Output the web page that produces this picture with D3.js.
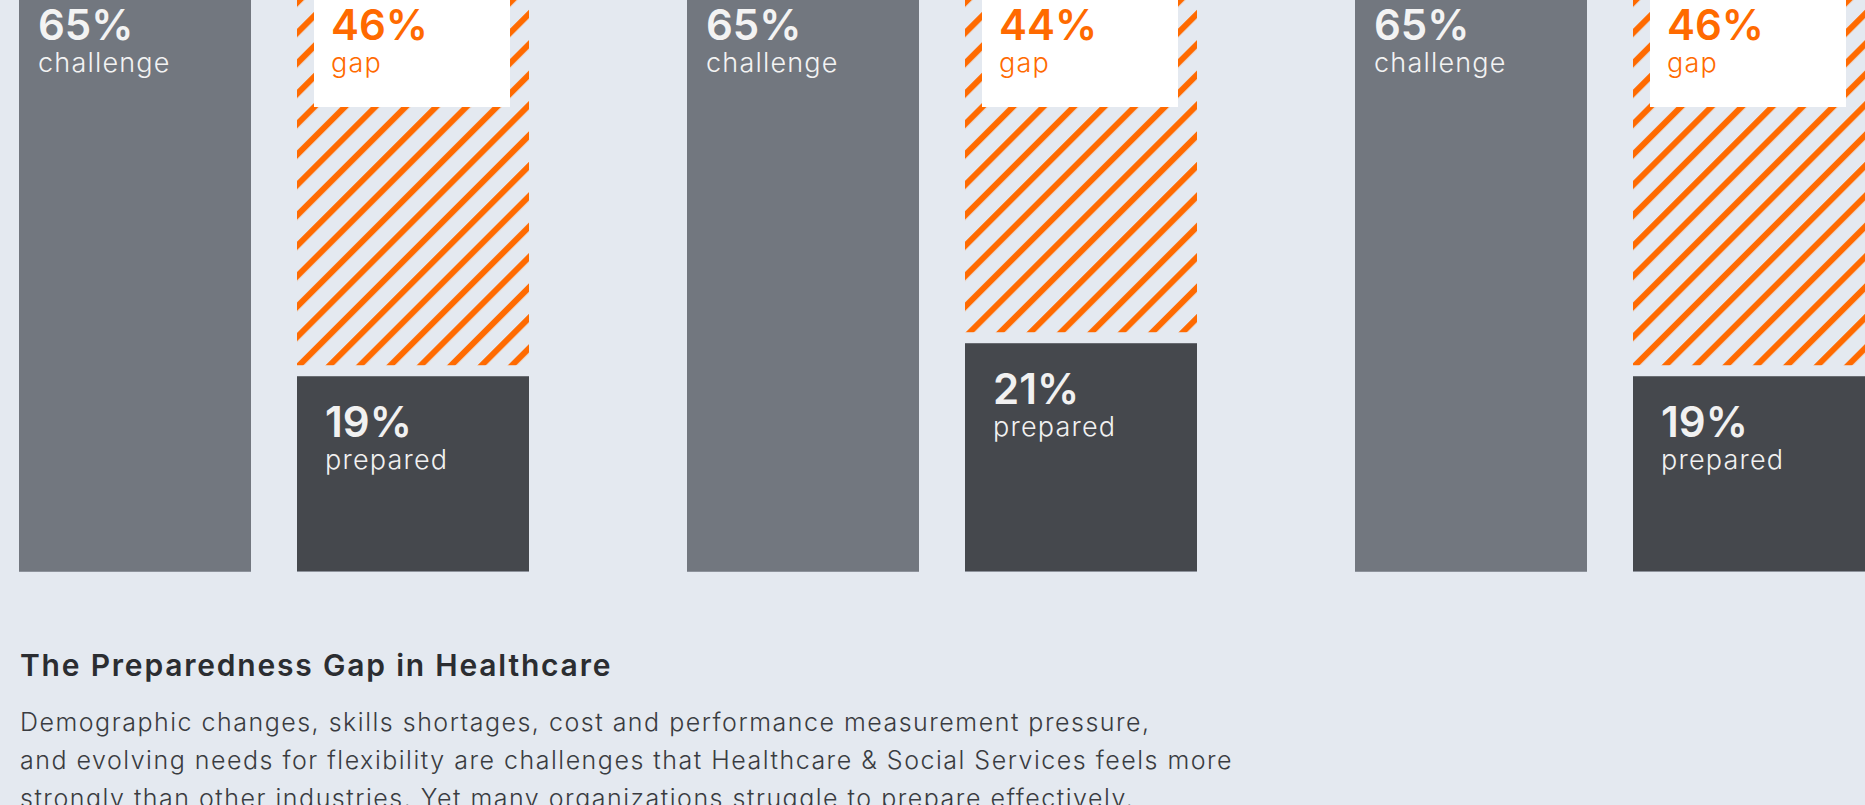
<!DOCTYPE html>
<html>
<head>
<meta charset="utf-8">
<script src="https://cdn.jsdelivr.net/npm/d3@7"></script>
<style>
  html, body { margin: 0; padding: 0; background: #e4e9f0; }
  svg { display: block; font-family: Inter, "Open Sans", sans-serif; }
</style>
</head>
<body>
<svg width="1865" height="805"></svg>
<script>
// three survey groups, only the bars are visible in the crop
var categories = ["Group 1", "Group 2", "Group 3"];
var challenge = [65, 65, 65];
var prepared = [19, 21, 19];
var gap = [46, 44, 46];

var title = "The Preparedness Gap in Healthcare";
var bodyLines = [
  "Demographic changes, skills shortages, cost and performance measurement pressure,",
  "and evolving needs for flexibility are challenges that Healthcare & Social Services feels more",
  "strongly than other industries. Yet many organizations struggle to prepare effectively."
];

var svg = d3.select("svg"),
    baseY = 571,
    gapSpace = 11;

var x = d3.scaleBand().domain(categories).range([19, 19 + 668 * 3]);
var xs = d3.scaleBand().domain(["challenge", "gap"]).range([0, 510]).paddingInner(46 / 278);
var y = d3.scaleLinear().domain([7.2, 65]).range([baseY, -383]);
var bw = xs.bandwidth();

var defs = svg.append("defs");
var pat = defs.append("pattern")
    .attr("id", "hatch")
    .attr("patternUnits", "userSpaceOnUse")
    .attr("width", 21.5)
    .attr("height", 21.5)
    .attr("patternTransform", "rotate(45)");
pat.append("line")
    .attr("x1", 5).attr("y1", 0)
    .attr("x2", 5).attr("y2", 21.5)
    .attr("stroke", "#ff6a00")
    .attr("stroke-width", 6);

var data = categories.map(function(c, i) {
  return {cat: c, challenge: challenge[i], prepared: prepared[i], gap: gap[i]};
});

var g = svg.selectAll(".grp")
    .data(data)
    .enter().append("g")
    .attr("class", "grp")
    .attr("transform", function(d) { return "translate(" + x(d.cat) + ",0)"; });

// challenge bar
g.append("rect")
    .attr("x", xs("challenge"))
    .attr("y", function(d) { return y(d.challenge); })
    .attr("width", bw)
    .attr("height", function(d) { return baseY - y(d.challenge); })
    .attr("fill", "#72777f");

// prepared bar
g.append("rect")
    .attr("x", xs("gap"))
    .attr("y", function(d) { return y(d.prepared); })
    .attr("width", bw)
    .attr("height", function(d) { return baseY - y(d.prepared); })
    .attr("fill", "#45484d");

// bottom edge
g.append("line")
    .attr("x1", 0).attr("x2", xs("gap") + bw)
    .attr("y1", baseY + 0.5).attr("y2", baseY + 0.5)
    .attr("stroke", "#8d929b")
    .attr("stroke-width", 1)
    .attr("stroke-dasharray", bw + "," + (xs("gap") - bw) + "," + bw);

// gap (hatched) bar
g.append("rect")
    .attr("x", xs("gap"))
    .attr("y", function(d) { return y(d.prepared + d.gap); })
    .attr("width", bw)
    .attr("height", function(d) { return y(d.prepared) - gapSpace - y(d.prepared + d.gap); })
    .attr("fill", "url(#hatch)");

// white label box on the gap bar
g.append("rect")
    .attr("x", xs("gap") + 17)
    .attr("y", function(d) { return y(d.prepared + d.gap); })
    .attr("width", bw - 36)
    .attr("height", function(d) { return 107 - y(d.prepared + d.gap); })
    .attr("fill", "#ffffff");

function label(sel, px, yNum, yWord, fill, word, key) {
  sel.append("text")
      .attr("x", px)
      .attr("y", yNum)
      .attr("fill", fill)
      .style("font-size", "42px")
      .style("font-weight", 600)
      .text(function(d) { return d[key] + "%"; });
  sel.append("text")
      .attr("x", px)
      .attr("y", yWord)
      .attr("fill", fill)
      .style("font-size", "27px")
      .style("font-weight", 300)
      .style("letter-spacing", "1.2px")
      .text(word);
}

label(g, xs("challenge") + 19, 40, 72, "#f3f3f3", "challenge", "challenge");
label(g, xs("gap") + 34, 40, 72, "#ff6a00", "gap", "gap");
label(g, xs("gap") + 28,
      function(d) { return y(d.prepared) + 61; },
      function(d) { return y(d.prepared) + 93; },
      "#f1f1f1", "prepared", "prepared");

svg.append("text")
    .attr("x", 20)
    .attr("y", 676)
    .attr("fill", "#2b2d31")
    .style("font-size", "30px")
    .style("font-weight", 600)
    .style("letter-spacing", "1.8px")
    .text(title);

svg.append("g").selectAll("text")
    .data(bodyLines)
    .enter().append("text")
    .attr("x", 20)
    .attr("y", function(d, i) { return 731 + i * 38; })
    .attr("fill", "#3a3c41")
    .style("font-size", "25px")
    .style("font-weight", 300)
    .style("letter-spacing", "1.5px")
    .text(function(d) { return d; });
</script>
</body>
</html>
